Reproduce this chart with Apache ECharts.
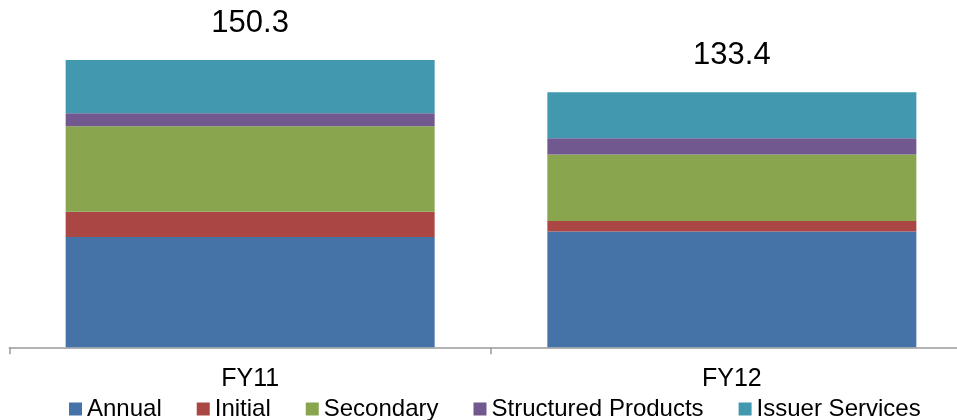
<!DOCTYPE html>
<html>
<head>
<meta charset="utf-8">
<style>html,body{margin:0;padding:0;background:#fff;}#c{width:957px;height:420px;}</style>
<script src="https://cdn.jsdelivr.net/npm/echarts@6/dist/echarts.min.js"></script>
</head>
<body>
<div id="c"></div>
<script>
var categories = ['FY11', 'FY12'];
var annual = [57.7, 60.6];
var initial = [13.2, 5.5];
var secondary = [44.7, 34.8];
var structured = [6.8, 8.5];
var issuer = [27.9, 24.0];
var totals = ['150.3', '133.4'];
var seriesNames = ['Annual', 'Initial', 'Secondary', 'Structured Products', 'Issuer Services'];
var colors = ['#4572A7', '#AA4643', '#89A54E', '#71588F', '#4198AF'];

var font = '"Liberation Sans", Arial, sans-serif';
var dataSets = [annual, initial, secondary, structured, issuer];
var series = dataSets.map(function (d, i) {
  var s = {
    name: seriesNames[i],
    type: 'bar',
    stack: 'total',
    barWidth: 369,
    data: d,
    itemStyle: { color: colors[i] },
    emphasis: { disabled: true }
  };
  if (i === dataSets.length - 1) {
    s.label = {
      show: true,
      position: 'top',
      distance: 21,
      fontFamily: font,
      fontSize: 31,
      color: '#000',
      formatter: function (p) { return totals[p.dataIndex]; }
    };
  }
  return s;
});

var chart = echarts.init(document.getElementById('c'), null, { renderer: 'canvas' });
chart.setOption({
  animation: false,
  backgroundColor: '#fff',
  grid: { left: 9.3, top: 41.5, width: 963.4, bottom: 72.7, containLabel: false, outerBoundsMode: 'none' },
  legend: {
    data: seriesNames,
    left: 64,
    top: 392,
    padding: 5,
    icon: 'rect',
    itemWidth: 13,
    itemHeight: 13,
    itemGap: 35,
    textStyle: { fontFamily: font, fontSize: 24, color: '#000' }
  },
  xAxis: {
    type: 'category',
    data: categories,
    boundaryGap: true,
    axisLine: { lineStyle: { color: '#9a9a9a', width: 1.5 } },
    axisTick: { show: true, length: 7, lineStyle: { color: '#9a9a9a', width: 1.5 } },
    axisLabel: { margin: 19, fontFamily: font, fontSize: 25, color: '#000' }
  },
  yAxis: {
    type: 'value',
    min: 0,
    max: 160,
    show: false,
    splitLine: { show: false }
  },
  series: series
});
</script>
</body>
</html>
